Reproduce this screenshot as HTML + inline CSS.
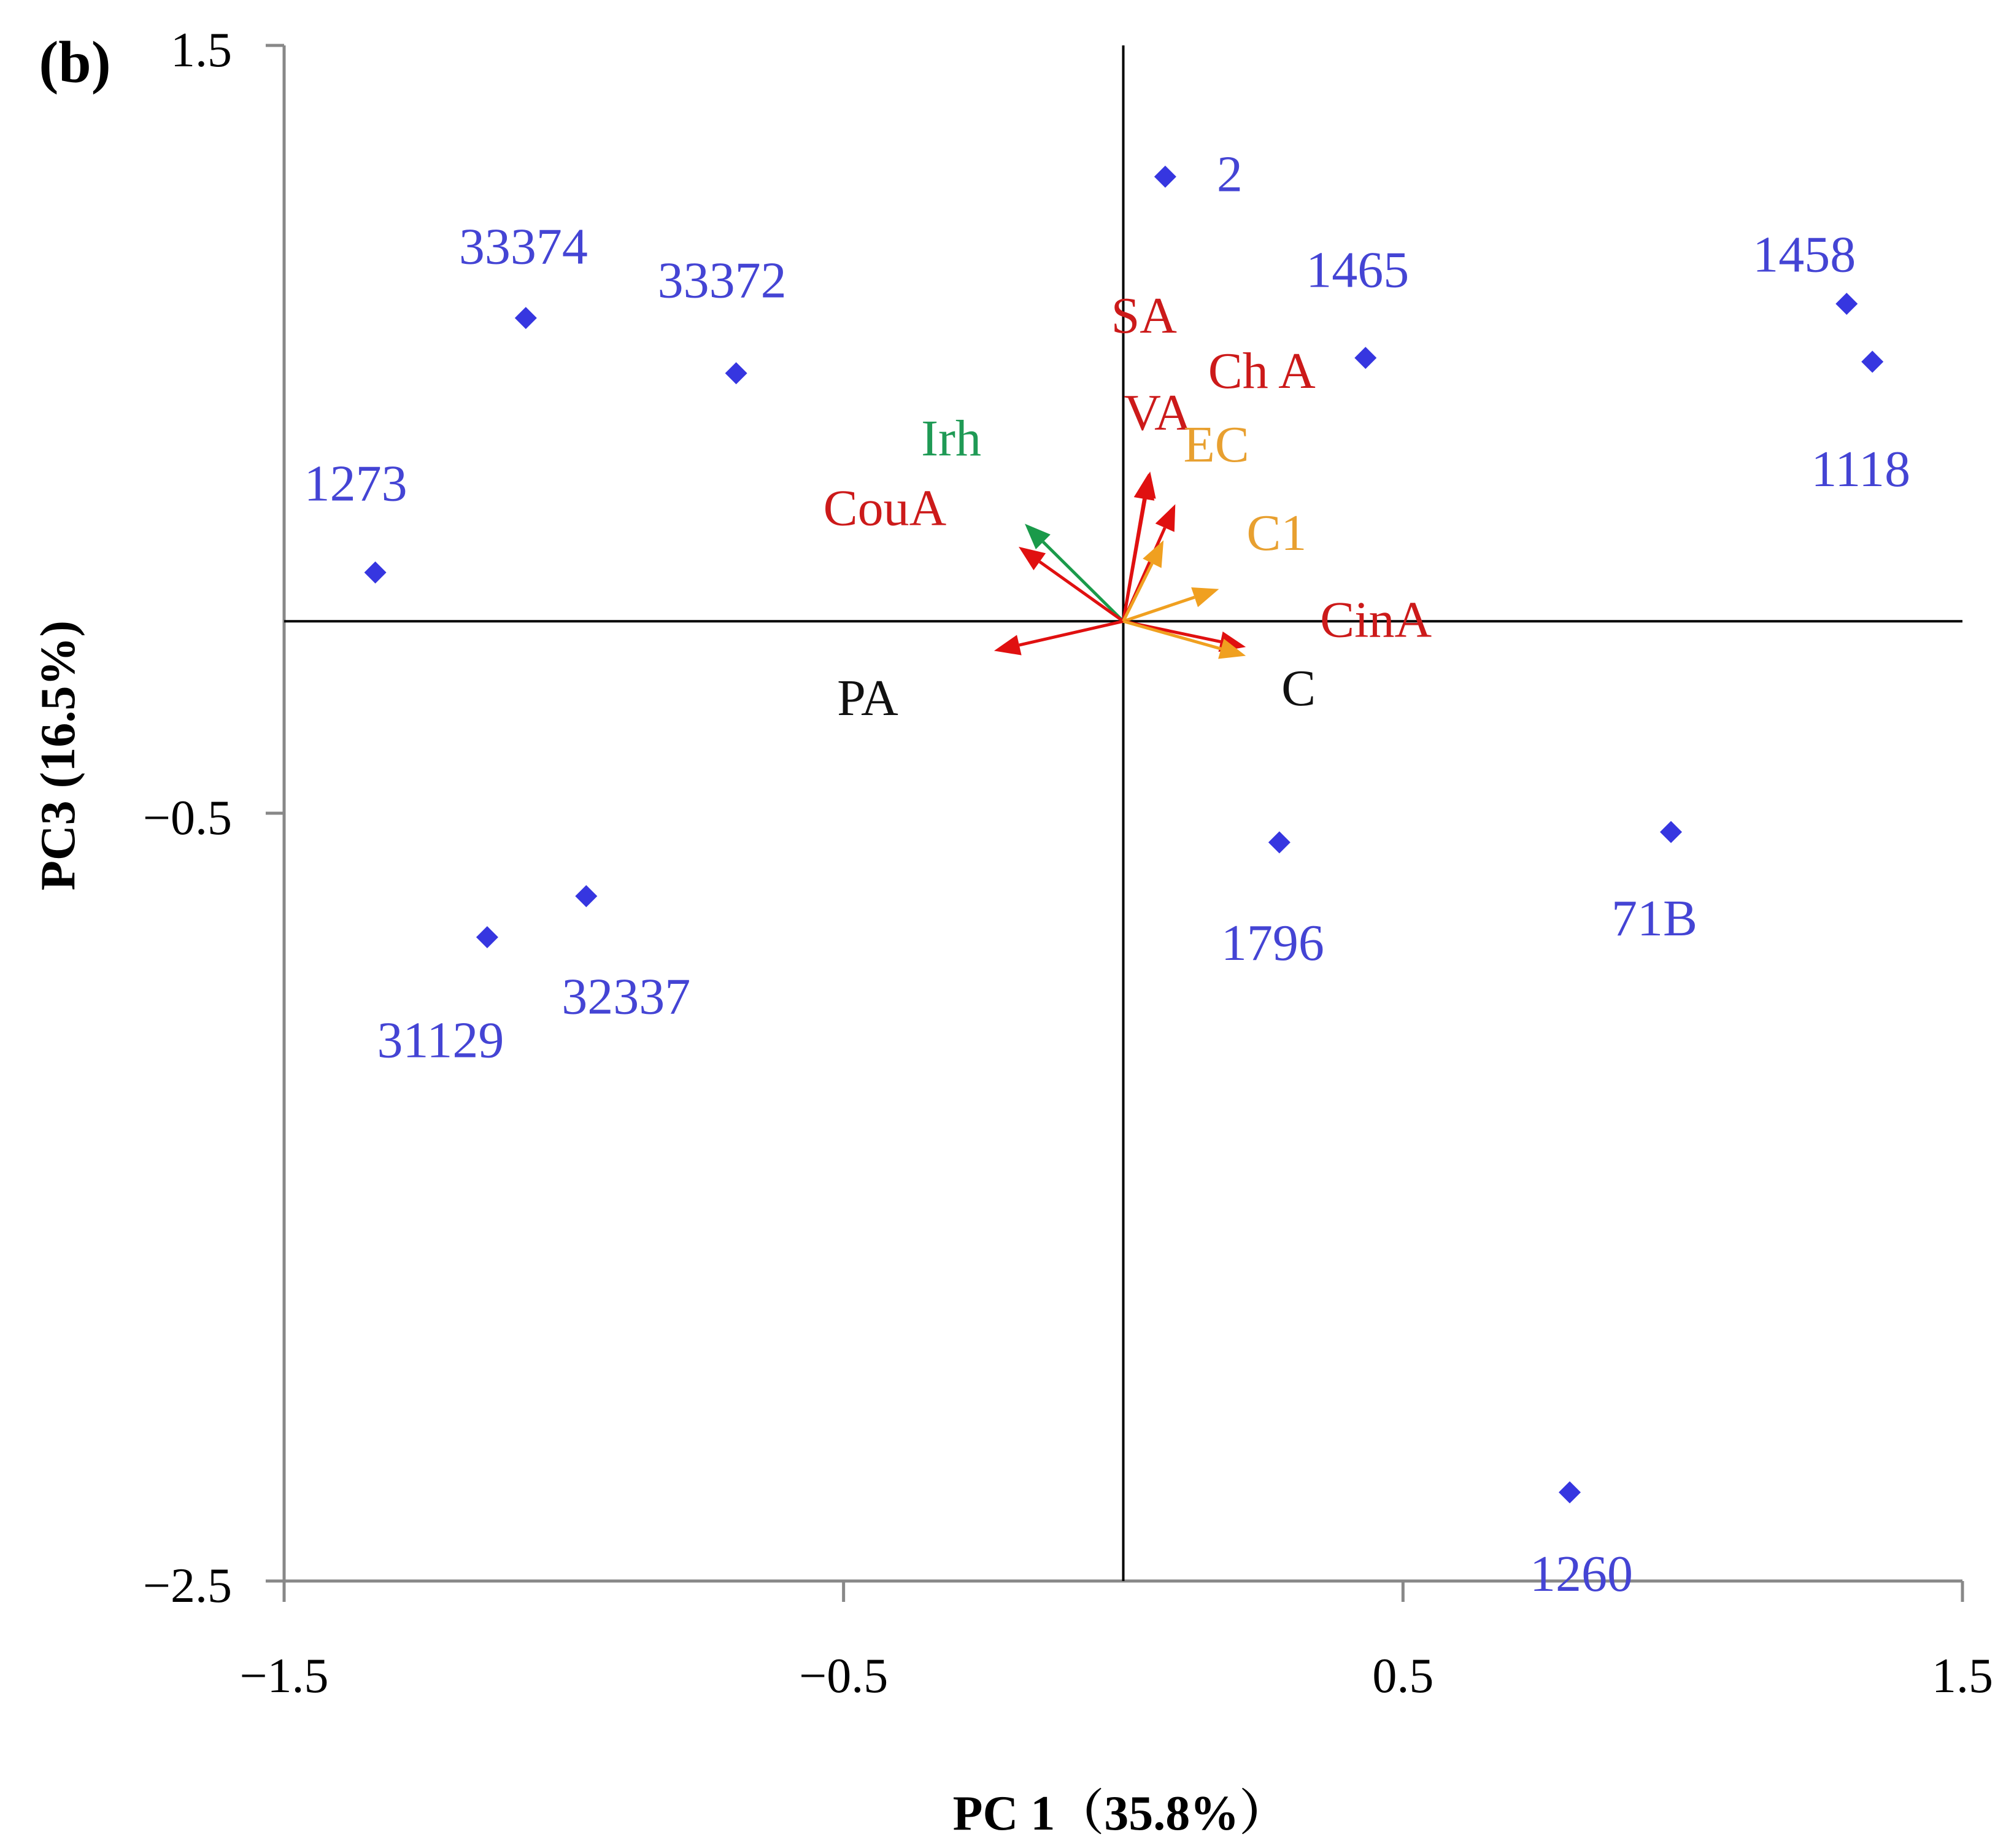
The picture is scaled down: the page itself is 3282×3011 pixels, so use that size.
<!DOCTYPE html>
<html><head><meta charset="utf-8"><style>
html,body{margin:0;padding:0;background:#fff}
svg{display:block}
text{font-family:"Liberation Serif","Noto Serif CJK SC",serif}
</style></head><body>
<svg id="chart" width="3282" height="3011" viewBox="0 0 3282 3011" xmlns="http://www.w3.org/2000/svg">
<rect width="3282" height="3011" fill="#fff"/>
<g id="axes"></g>
<g id="vectors"></g>
<g id="points"></g>
<text x="122" y="101" font-size="96" font-weight="bold" text-anchor="middle" dominant-baseline="central">(b)</text>
<text x="1826" y="2955" font-size="80" font-weight="bold" text-anchor="middle" dominant-baseline="central">PC 1（35.8%）</text>
<text x="95" y="1231" font-size="80" font-weight="bold" text-anchor="middle" dominant-baseline="central" transform="rotate(-90 95 1231)">PC3 (16.5%)</text>
</svg>
<script>
const xTicks = [-1.5, -0.5, 0.5, 1.5];
const xTickLabels = ["\u22121.5", "\u22120.5", "0.5", "1.5"];
const yTicks = [1.5, -0.5, -2.5];
const yTickLabels = ["1.5", "\u22120.5", "\u22122.5"];
const pointNames = ["2","33374","33372","1465","1458","1118","1273","1796","71B","32337","31129","1260"];
const pointX = [0.075,-1.068,-0.692,0.433,1.293,1.339,-1.337,0.279,0.979,-0.960,-1.137,0.798];
const pointY = [1.158,0.790,0.646,0.686,0.827,0.676,0.127,-0.576,-0.549,-0.716,-0.823,-2.269];
const vecNames = ["Irh","CouA","PA","SA","VA","ChA","EC","C1","CinA","C"];
const vecX = [-0.176,-0.187,-0.231,0.048,0.045,0.093,0.072,0.171,0.219,0.219];
const vecY = [0.254,0.194,-0.077,0.390,0.385,0.305,0.211,0.084,-0.067,-0.090];
const vecLabels = ["Irh","CouA","PA","SA","VA","Ch A","EC","C1","CinA","C"];

// styling (not data)
const ptLabelOff = [[105,-4],[-4,-116],[-23,-151],[-13,-143],[-69,-80],[-19,175],[-32,-145],[-11,164],[-27,141],[65,164],[-76,168],[19,133]];
const vecColor = ["#1a9a4a","#e01010","#e01010","#e01010","#e01010","#e01010","#f0a020","#f0a020","#e01010","#f0a020"];
const vecTextColor = ["#1f9a55","#cc1a1a","#111","#cc1a1a","#cc1a1a","#cc1a1a","#e8a030","#e8a030","#cc1a1a","#111"];
const vecLabelOff = [[-120,-139],[-218,-63],[-206,77],[-10,-254],[15,-99],[141,-217],[86,-156],[94,-91],[212,-44],[86,53]];

const X0=463, X1=3198, Y0=74, Y1=2576;
const X = v => X0 + (v - (-1.5)) / 3 * (X1 - X0);
const Y = v => Y0 + (1.5 - v) / 4 * (Y1 - Y0);
const NS="http://www.w3.org/2000/svg";
function mk(tag, attrs, parent){const e=document.createElementNS(NS,tag);for(const k in attrs)e.setAttribute(k,attrs[k]);parent.appendChild(e);return e;}
const axes=document.getElementById('axes');
let e;
e=mk('line',{x1:X0,y1:Y0,x2:X0,y2:Y1,stroke:'#888','stroke-width':5},axes);


e=mk('line',{x1:X0,y1:Y1,x2:X1,y2:Y1,stroke:'#888','stroke-width':5},axes);


xTicks.forEach((t,i)=>{
  e=mk('line',{x1:X(t),y1:Y1,x2:X(t),y2:Y1+34,stroke:'#888','stroke-width':5},axes);
  
  
  e=mk('text',{x:X(t),y:Y1+155,'font-size':80,'text-anchor':'middle','dominant-baseline':'central'},axes);
  e.textContent=xTickLabels[i];
  
  
});
yTicks.forEach((t,i)=>{
  e=mk('line',{x1:X0-30,y1:Y(t),x2:X0,y2:Y(t),stroke:'#888','stroke-width':5},axes);
  
  
  e=mk('text',{x:X0-85,y:Y(t)+8,'font-size':80,'text-anchor':'end','dominant-baseline':'central'},axes);
  e.textContent=yTickLabels[i];
  
  
});
e=mk('line',{x1:X(0),y1:Y0,x2:X(0),y2:Y1,stroke:'#000','stroke-width':4},axes);


e=mk('line',{x1:X0,y1:Y(0),x2:X1,y2:Y(0),stroke:'#000','stroke-width':4},axes);



const vg=document.getElementById('vectors');
vecNames.forEach((n,i)=>{
  const x1=X(0),y1=Y(0),x2=X(vecX[i]),y2=Y(vecY[i]);
  const dx=x2-x1,dy=y2-y1,L=Math.hypot(dx,dy),ux=dx/L,uy=dy/L;
  const hl=42,hw=17;
  const bx=x2-ux*hl,by=y2-uy*hl;
  const g=mk('g',{},vg);
  
  
  mk('line',{x1:x1,y1:y1,x2:bx,y2:by,stroke:vecColor[i],'stroke-width':5},g);
  mk('polygon',{points:`${x2},${y2} ${bx-uy*hw},${by+ux*hw} ${bx+uy*hw},${by-ux*hw}`,fill:vecColor[i]},g);
  const t=mk('text',{x:x2+vecLabelOff[i][0],y:y2+vecLabelOff[i][1],'font-size':84,'text-anchor':'middle','dominant-baseline':'central',fill:vecTextColor[i]},vg);
  t.textContent=vecLabels[i];
  
  
});

const pg=document.getElementById('points');
pointNames.forEach((n,i)=>{
  const cx=X(pointX[i]),cy=Y(pointY[i]),r=18;
  const p=mk('polygon',{points:`${cx},${cy-r} ${cx+r},${cy} ${cx},${cy+r} ${cx-r},${cy}`,fill:'#3636e0'},pg);
  
  
  const t=mk('text',{x:cx+ptLabelOff[i][0],y:cy+ptLabelOff[i][1],'font-size':84,'text-anchor':'middle','dominant-baseline':'central',fill:'#4444d4'},pg);
  t.textContent=n;
  
  
});
</script>
</body></html>
